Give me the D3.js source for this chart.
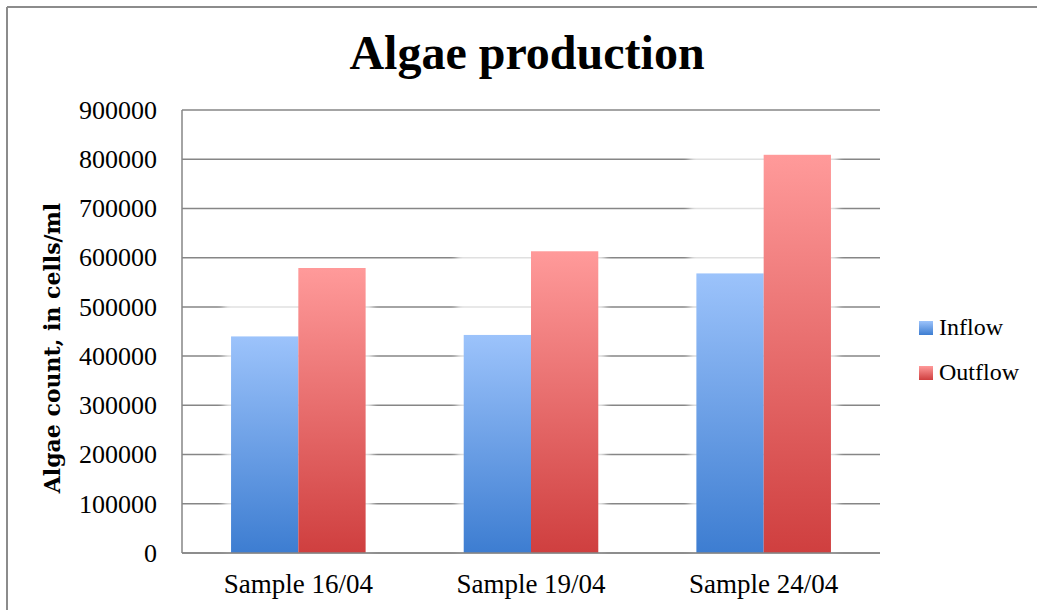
<!DOCTYPE html>
<html>
<head>
<meta charset="utf-8">
<script src="https://cdn.jsdelivr.net/npm/d3@7"></script>
<style>
  html, body { margin: 0; padding: 0; background: #fff; }
  svg { display: block; }
  text { font-family: "Liberation Serif", "DejaVu Serif", serif; fill: #000; }
</style>
</head>
<body>
<svg id="chart" width="1037" height="610"></svg>
<script>
// Chart data
const categories = ["Sample 16/04", "Sample 19/04", "Sample 24/04"];
const seriesNames = ["Inflow", "Outflow"];
const inflow = [440000, 443000, 568000];
const outflow = [579000, 613000, 809000];
const yTicks = [0, 100000, 200000, 300000, 400000, 500000, 600000, 700000, 800000, 900000];
const chartTitle = "Algae production";
const yTitle = "Algae count, in cells/ml";

const seriesValues = { Inflow: inflow, Outflow: outflow };
const rows = categories.map((c, i) => ({
  category: c,
  values: seriesNames.map(s => ({ series: s, value: seriesValues[s][i] }))
}));

const W = 1037, H = 610;
const plot = { left: 182, right: 880, top: 110, bottom: 553 };
const gridColor = "#868686";

const svg = d3.select("#chart");
const defs = svg.append("defs");

// Vertical gradients for each series
const gradStops = {
  Inflow: ["#9cc3fb", "#3d7dd1"],
  Outflow: ["#ff9a9a", "#cf3f3f"]
};
seriesNames.forEach(s => {
  const g = defs.append("linearGradient")
    .attr("id", "grad-" + s)
    .attr("x1", 0).attr("y1", 0).attr("x2", 0).attr("y2", 1);
  g.append("stop").attr("offset", "0%").attr("stop-color", gradStops[s][0]);
  g.append("stop").attr("offset", "100%").attr("stop-color", gradStops[s][1]);
});

// Soft halo around bar groups
const halo = defs.append("filter").attr("id", "halo")
  .attr("x", "-30%").attr("y", "-30%").attr("width", "160%").attr("height", "160%");
halo.append("feGaussianBlur").attr("stdDeviation", 3);

// Outer frame (top and left edges visible)
svg.append("line").attr("x1", 7).attr("x2", W).attr("y1", 7).attr("y2", 7)
  .attr("stroke", "#8c8c8c").attr("stroke-width", 2);
svg.append("line").attr("x1", 7).attr("x2", 7).attr("y1", 7).attr("y2", H)
  .attr("stroke", "#8c8c8c").attr("stroke-width", 2);

// Scales
const y = d3.scaleLinear().domain([0, 900000]).range([plot.bottom, plot.top]);
const x0 = d3.scaleBand().domain(categories).range([plot.left, plot.right]).padding(0);
const x1 = d3.scaleBand().domain(seriesNames).range([0, x0.bandwidth()])
  .paddingInner(0).paddingOuter(0.729);

// Gridlines
svg.append("g")
  .selectAll("line")
  .data(yTicks)
  .join("line")
  .attr("x1", plot.left).attr("x2", plot.right)
  .attr("y1", d => y(d)).attr("y2", d => y(d))
  .attr("stroke", gridColor).attr("stroke-width", 1.5);

// Y axis (labels only, line drawn separately)
const yAxis = svg.append("g")
  .attr("transform", `translate(${plot.left},0)`)
  .call(d3.axisLeft(y).tickValues(yTicks).tickFormat(d3.format("d")).tickSize(0).tickPadding(25));
yAxis.select(".domain").remove();
yAxis.selectAll("text")
  .style("font-family", '"Liberation Serif", serif')
  .style("font-size", "26px")
  .attr("fill", "#000");

// Bars
const groups = svg.append("g")
  .selectAll("g")
  .data(rows)
  .join("g")
  .attr("transform", d => `translate(${x0(d.category)},0)`);

// Halo behind each group
groups.append("rect")
  .attr("x", x1(seriesNames[0]) - 7)
  .attr("width", x1.bandwidth() * 2 + 14)
  .attr("y", d => y(d3.max(d.values, v => v.value)) - 3)
  .attr("height", d => plot.bottom - y(d3.max(d.values, v => v.value)) + 3)
  .attr("fill", "#ffffff")
  .attr("opacity", 0.75)
  .attr("filter", "url(#halo)");

groups.selectAll("rect.bar")
  .data(d => d.values)
  .join("rect")
  .attr("class", "bar")
  .attr("x", d => x1(d.series))
  .attr("width", x1.bandwidth())
  .attr("y", d => y(d.value))
  .attr("height", d => plot.bottom - y(d.value))
  .attr("fill", d => `url(#grad-${d.series})`);

// Axis lines
svg.append("line").attr("x1", plot.left).attr("x2", plot.left)
  .attr("y1", plot.top).attr("y2", plot.bottom)
  .attr("stroke", gridColor).attr("stroke-width", 1.5);
svg.append("line").attr("x1", plot.left).attr("x2", plot.right)
  .attr("y1", plot.bottom).attr("y2", plot.bottom)
  .attr("stroke", gridColor).attr("stroke-width", 1.5);

// X axis labels
const xAxis = svg.append("g")
  .attr("transform", `translate(0,${plot.bottom})`)
  .call(d3.axisBottom(x0).tickSize(0).tickPadding(21));
xAxis.select(".domain").remove();
xAxis.selectAll("text")
  .style("font-family", '"Liberation Serif", serif')
  .style("font-size", "27px")
  .attr("fill", "#000");

// Title
svg.append("text")
  .attr("x", 527).attr("y", 69)
  .attr("text-anchor", "middle")
  .style("font-size", "48px").style("font-weight", "bold")
  .text(chartTitle);

// Y axis title
svg.append("text")
  .attr("transform", `translate(60,${348}) rotate(-90)`)
  .attr("text-anchor", "middle")
  .style("font-family", '"DejaVu Serif", serif')
  .style("font-size", "22px").style("font-weight", "bold")
  .text(yTitle);

// Legend
const legend = svg.append("g");
const legendRows = legend.selectAll("g")
  .data(seriesNames)
  .join("g")
  .attr("transform", (d, i) => `translate(919,${321 + i * 45})`);
legendRows.append("rect")
  .attr("width", 14).attr("height", 14)
  .attr("fill", d => `url(#grad-${d})`);
legendRows.append("text")
  .attr("x", 20).attr("y", 14)
  .style("font-size", "24px")
  .text(d => d);
</script>
</body>
</html>
